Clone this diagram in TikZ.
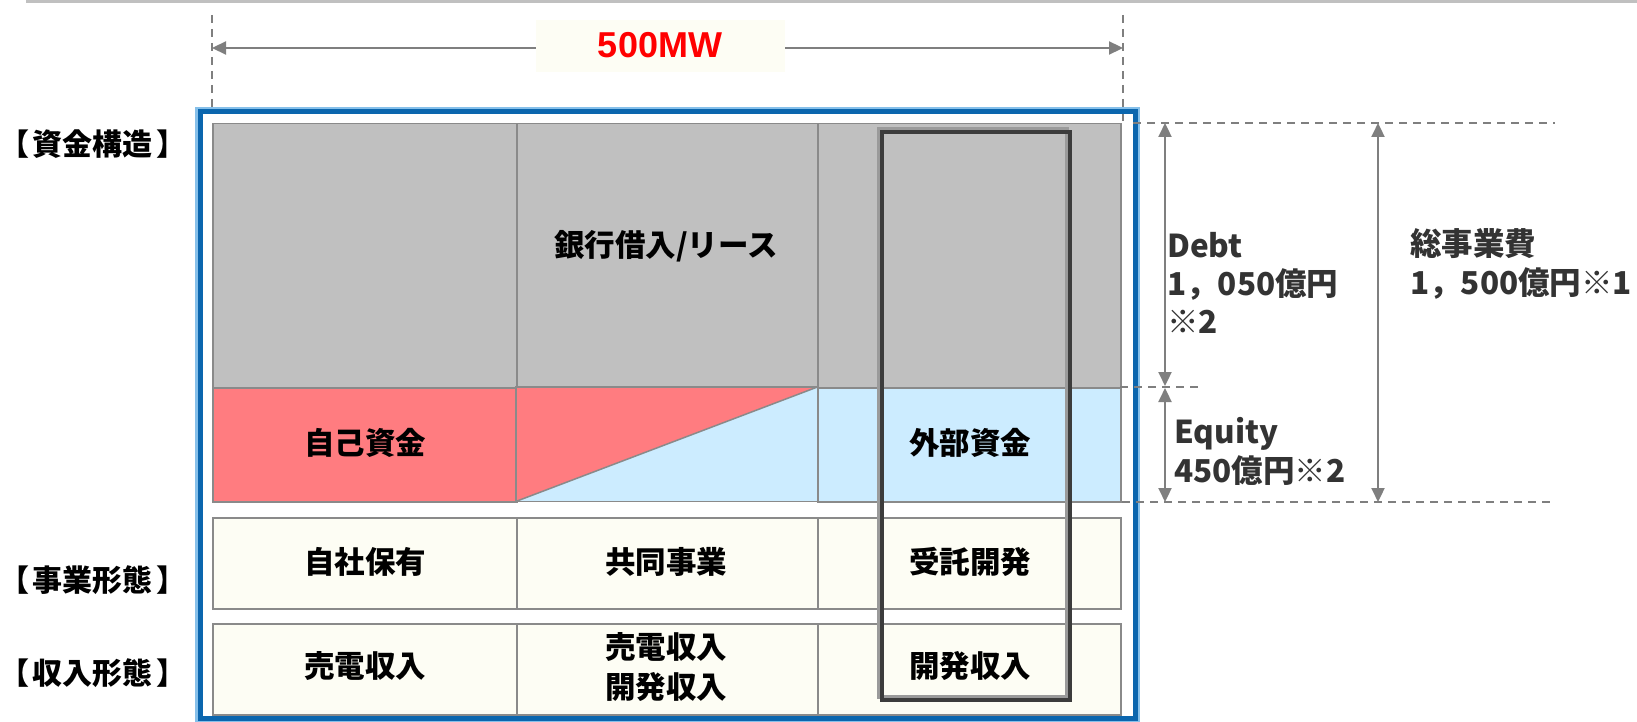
\documentclass[tikz,border=0pt]{standalone}
\usepackage{fontspec}
\newfontfamily\jp{Noto Sans CJK JP}
\newfontfamily\jpk{Noto Sans CJK JP Black}
\newfontfamily\lat{Liberation Sans}
\usetikzlibrary{arrows.meta}
\definecolor{cellgray}{HTML}{C0C0C0}
\definecolor{edgegray}{HTML}{8A8A8A}
\definecolor{eqred}{HTML}{FF7C80}
\definecolor{eqblue}{HTML}{CCECFF}
\definecolor{cream}{HTML}{FDFDF4}
\definecolor{dimgray}{HTML}{7F7F7F}
\definecolor{txtgray}{HTML}{333333}
\definecolor{frameblue}{HTML}{0B66AE}
\definecolor{framelight}{HTML}{86C0EA}
\definecolor{boxdark}{HTML}{3C3C3C}
\definecolor{boxlight}{HTML}{9A9A9A}
\tikzset{
  cell/.style={draw=edgegray, line width=1.5pt, rectangle, inner sep=0pt, anchor=north west},
  celltext/.style={font=\jpk\fontsize{30.5pt}{32pt}\selectfont, text=black, inner sep=0pt},
  sidelabel/.style={font=\jpk\fontsize{30pt}{32pt}\selectfont, text=black, inner sep=0pt},
  dimtext/.style={font=\jp\bfseries\fontsize{31.5pt}{36pt}\selectfont, text=txtgray, inner sep=0pt, anchor=base west},
  dimline/.style={draw=dimgray, line width=1.6pt, dash pattern=on 8pt off 6pt},
  dimarrow/.style={draw=dimgray, line width=2.2pt, {Triangle[length=14pt,width=13pt]}-{Triangle[length=14pt,width=13pt]}}
}
\begin{document}
\begin{tikzpicture}[x=1pt,y=-1pt]
\useasboundingbox (0,0) rectangle (1637,722);
% top rule
\fill[cellgray] (26,0) rectangle (1637,3);

% width dimension
\coordinate (wl0) at (212,15);
\coordinate (wl1) at (212,110);
\coordinate (wr0) at (1123,15);
\coordinate (wr1) at (1123,123);
\draw[dimline] (wl0) -- (wl1);
\draw[dimline] (wr0) -- (wr1);
\coordinate (wa) at (212,48);
\coordinate (wb) at (1123,48);
\draw[dimarrow] (wa) -- (wb);
\node[fill=cream, minimum width=249pt, minimum height=52pt, inner sep=0pt] (mw) at (660,46) {};
\node[font=\lat\bfseries\fontsize{36pt}{40pt}\selectfont, text=red, inner sep=0pt] (mwt) at (660,45) {500MW};

% blue frame
\draw[framelight, line width=3pt] (196.5,108.5) rectangle (1138.5,721);
\draw[frameblue, line width=5pt] (200,112) rectangle (1135,718);

% row 1: debt
\node[cell, fill=cellgray, minimum width=304pt, minimum height=264pt] (g1) at (212,123) {};
\node[cell, fill=cellgray, minimum width=301pt, minimum height=264pt] (g2) at (516,123) {};
\node[cell, fill=cellgray, minimum width=303pt, minimum height=264pt] (g3) at (817,123) {};
\node[celltext] (bank) at (666,246) {銀行借入/リース};

% row 2: equity
\node[cell, fill=eqred, minimum width=304pt, minimum height=114pt] (e1) at (212,387) {};
\node[inner sep=0pt, minimum width=301pt, minimum height=114pt, anchor=north west] (e2) at (516,387) {};
\fill[eqred] (e2.north west) -- (e2.north east) -- (e2.south west) -- cycle;
\fill[eqblue] (e2.north east) -- (e2.south east) -- (e2.south west) -- cycle;
\draw[draw=edgegray, line width=1.5pt] (e2.north west) rectangle (e2.south east);
\draw[draw=edgegray, line width=1.5pt] (e2.south west) -- (e2.north east);
\node[cell, fill=eqblue, minimum width=303pt, minimum height=114pt] (e3) at (817,387) {};
\node[celltext] (own) at (365,443) {自己資金};
\node[celltext] (ext) at (970,443) {外部資金};

% row 3: business form
\node[cell, fill=cream, minimum width=304pt, minimum height=91pt] (b1) at (212,517) {};
\node[cell, fill=cream, minimum width=301pt, minimum height=91pt] (b2) at (516,517) {};
\node[cell, fill=cream, minimum width=303pt, minimum height=91pt] (b3) at (817,517) {};
\node[celltext] at (365,562) {自社保有};
\node[celltext] at (666,562) {共同事業};
\node[celltext] at (970,562) {受託開発};

% row 4: revenue form
\node[cell, fill=cream, minimum width=304pt, minimum height=91pt] (r1) at (212,623) {};
\node[cell, fill=cream, minimum width=301pt, minimum height=91pt] (r2) at (516,623) {};
\node[cell, fill=cream, minimum width=303pt, minimum height=91pt] (r3) at (817,623) {};
\node[celltext] at (365,666) {売電収入};
\node[celltext] at (666,647) {売電収入};
\node[celltext] at (666,687) {開発収入};
\node[celltext] at (970,666) {開発収入};

% highlight box
\draw[boxlight, line width=4pt] (879,129) rectangle (1067,697);
\draw[boxdark, line width=4pt] (882,132) rectangle (1070,700);

% side labels
\node[sidelabel] (l1) at (93,144) {【\hspace{4pt}資金構造\hspace{4pt}】};
\node[sidelabel] (l2) at (93,580) {【\hspace{4pt}事業形態\hspace{4pt}】};
\node[sidelabel] (l3) at (93,673) {【\hspace{4pt}収入形態\hspace{4pt}】};

% height dimensions
\coordinate (ht0) at (1133,123);
\coordinate (ht1) at (1555,123);
\coordinate (hm0) at (1120,387);
\coordinate (hm1) at (1200,387);
\coordinate (hb0) at (1122,502);
\coordinate (hb1) at (1550,502);
\draw[dimline] (ht0) -- (ht1);
\draw[dimline] (hm0) -- (hm1);
\draw[dimline] (hb0) -- (hb1);
\coordinate (da) at (1165,123);
\coordinate (db) at (1165,386);
\coordinate (ea) at (1165,388);
\coordinate (eb) at (1165,502);
\coordinate (ta) at (1378,123);
\coordinate (tb) at (1378,502);
\draw[dimarrow] (da) -- (db);
\draw[dimarrow] (ea) -- (eb);
\draw[dimarrow] (ta) -- (tb);

\node[dimtext] (d1) at (1167,257) {Debt};
\node[dimtext] (d2) at (1167,295) {1，050億円};
\node[dimtext] (d3) at (1167,333) {※2};
\node[dimtext] (q1) at (1174,443) {Equity};
\node[dimtext] (q2) at (1174,482) {450億円※2};
\node[dimtext] (t1) at (1410,255) {総事業費};
\node[dimtext] (t2) at (1410,294) {1，500億円※1};
\end{tikzpicture}
\end{document}
